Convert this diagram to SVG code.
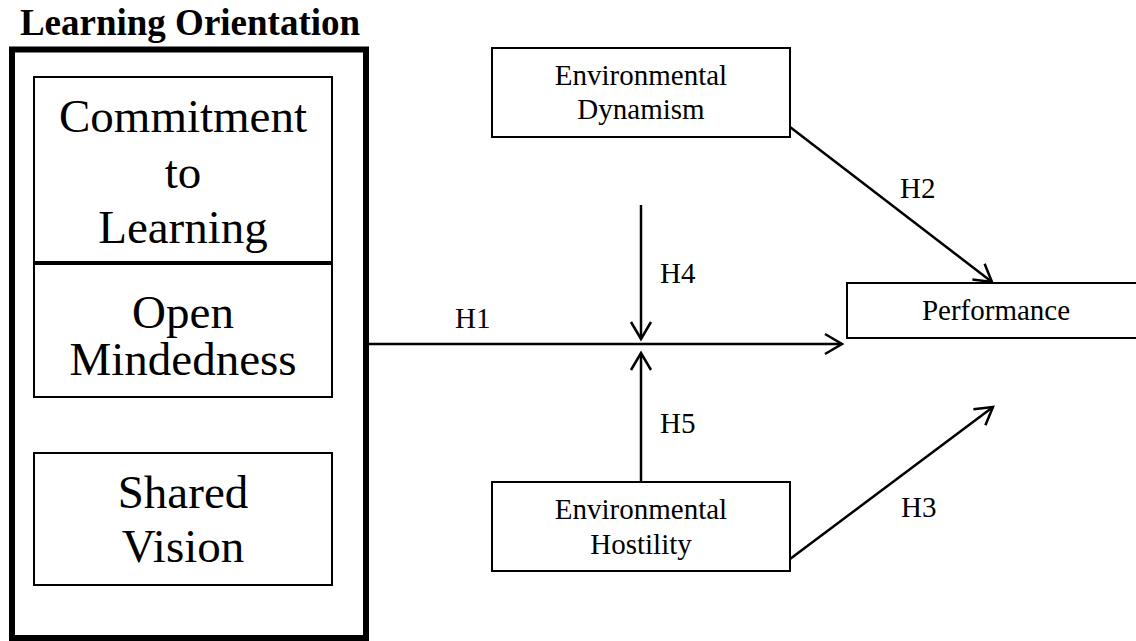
<svg xmlns="http://www.w3.org/2000/svg" width="1136" height="641" viewBox="0 0 1136 641">
<defs>
<style>
.box{fill:#fff;stroke:#000;stroke-width:2}
.big{font-family:"Liberation Serif","Times New Roman",serif;font-size:47px;fill:#000;text-anchor:middle}
.sm{font-family:"Liberation Serif","Times New Roman",serif;font-size:29px;fill:#000;text-anchor:middle}
.lbl{font-family:"Liberation Serif","Times New Roman",serif;font-size:29px;fill:#000}
.title{font-family:"Liberation Serif","Times New Roman",serif;font-size:37px;font-weight:bold;fill:#000;text-anchor:middle}
.conn{stroke:#000;stroke-width:2.5;fill:none}
</style>
<marker id="arr" markerUnits="userSpaceOnUse" markerWidth="40" markerHeight="40" refX="0" refY="0" viewBox="-20 -20 40 40" orient="auto" overflow="visible">
<path d="M-17,-10 L0,0 L-17,10" fill="none" stroke="#000" stroke-width="2.5"/>
</marker>
</defs>
<rect width="1136" height="641" fill="#fff"/>

<g id="learning-orientation">
<text class="title" x="190" y="35">Learning Orientation</text>
<rect x="12" y="49.5" width="354" height="588.5" fill="none" stroke="#000" stroke-width="6"/>
</g>

<g id="commitment">
<rect class="box" x="34" y="77" width="298" height="185"/>
<text class="big" x="183" y="132">Commitment</text>
<text class="big" x="183" y="188">to</text>
<text class="big" x="183" y="243">Learning</text>
</g>

<g id="open-mindedness">
<rect class="box" x="34" y="264" width="298" height="133"/>
<text class="big" x="183" y="328">Open</text>
<text class="big" x="183" y="375">Mindedness</text>
</g>

<g id="shared-vision">
<rect class="box" x="34" y="453" width="298" height="132"/>
<text class="big" x="183" y="508">Shared</text>
<text class="big" x="183" y="562">Vision</text>
</g>

<g id="env-dynamism">
<rect class="box" x="492" y="48" width="298" height="89"/>
<text class="sm" x="641" y="85">Environmental</text>
<text class="sm" x="641" y="119">Dynamism</text>
</g>

<g id="performance">
<rect class="box" x="847" y="283" width="300" height="55"/>
<text class="sm" x="996" y="320">Performance</text>
</g>

<g id="env-hostility">
<rect class="box" x="492" y="482" width="298" height="89"/>
<text class="sm" x="641" y="519">Environmental</text>
<text class="sm" x="641" y="554">Hostility</text>
</g>

<g id="connectors">
<line class="conn" x1="369" y1="344" x2="842" y2="344" marker-end="url(#arr)"/>
<line class="conn" x1="641" y1="205" x2="641" y2="339" marker-end="url(#arr)"/>
<line class="conn" x1="641" y1="482" x2="641" y2="353" marker-end="url(#arr)"/>
<line class="conn" x1="790" y1="127" x2="992" y2="282" marker-end="url(#arr)"/>
<line class="conn" x1="790" y1="559" x2="993" y2="407" marker-end="url(#arr)"/>
<text class="lbl" x="455" y="328">H1</text>
<text class="lbl" x="900" y="198">H2</text>
<text class="lbl" x="901" y="517">H3</text>
<text class="lbl" x="660" y="283">H4</text>
<text class="lbl" x="660" y="433">H5</text>
</g>
</svg>
